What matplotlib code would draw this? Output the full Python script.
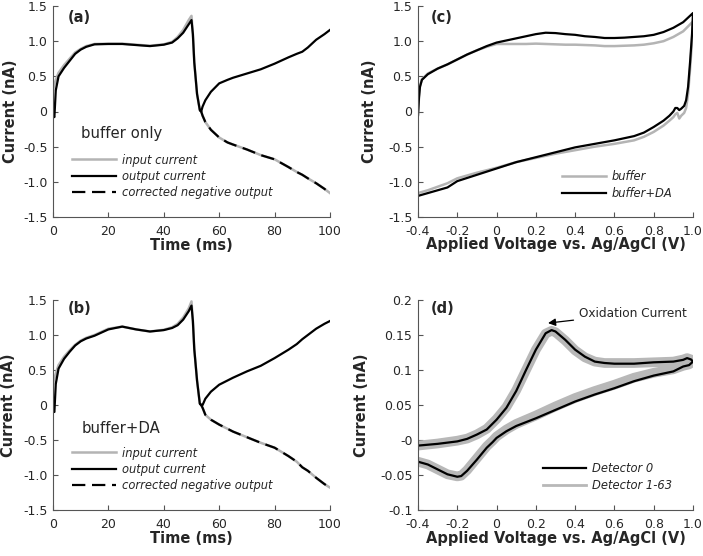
import numpy as np
import matplotlib
matplotlib.use("Agg")
import matplotlib.pyplot as plt

plt.rcParams['font.family'] = ['DejaVu Sans']

GRAY = '#b4b4b4'
TXT = '#262626'

# ---- panel (a): buffer only, current vs time ----
time_fwd = [0, 0.5, 1, 2, 4, 6, 8, 10, 12, 15, 20, 25, 30, 35, 40, 43, 45, 47, 49, 50, 50.5, 51, 52, 53]
time_tail = [53, 53.5, 54, 55, 57, 60, 63, 65, 70, 75, 80, 85, 88, 90, 92, 95, 98, 100]

in_a_fwd = [0.3, 0.38, 0.45, 0.55, 0.66, 0.75, 0.84, 0.89, 0.93, 0.96, 0.965, 0.965, 0.95, 0.935, 0.955,
            0.99, 1.06, 1.16, 1.30, 1.36, 1.1, 0.7, 0.25, 0.02]
out_a_fwd = [-0.05, -0.08, 0.3, 0.5, 0.62, 0.72, 0.82, 0.88, 0.92, 0.955, 0.96, 0.96, 0.945, 0.93, 0.95,
             0.98, 1.04, 1.12, 1.24, 1.30, 1.1, 0.7, 0.25, 0.02]
in_a_tail = [0.02, 0.0, -0.06, -0.15, -0.26, -0.37, -0.44, -0.47, -0.54, -0.62, -0.68, -0.79, -0.86,
             -0.90, -0.95, -1.02, -1.10, -1.16]
out_a_tail = [0.02, 0.0, 0.07, 0.16, 0.28, 0.40, 0.45, 0.48, 0.54, 0.60, 0.68, 0.77, 0.82, 0.85, 0.91,
              1.02, 1.10, 1.16]
corr_a_tail = [0.02, 0.0, -0.06, -0.15, -0.26, -0.37, -0.44, -0.47, -0.54, -0.62, -0.68, -0.79, -0.86,
               -0.90, -0.95, -1.02, -1.10, -1.16]

# ---- panel (b): buffer+DA, current vs time ----
in_b_fwd = [0.3, 0.38, 0.45, 0.57, 0.69, 0.78, 0.86, 0.92, 0.96, 1.0, 1.09, 1.12, 1.08, 1.05, 1.075,
            1.11, 1.16, 1.25, 1.38, 1.48, 1.2, 0.8, 0.35, 0.02]
out_b_fwd = [-0.08, -0.1, 0.3, 0.52, 0.66, 0.76, 0.85, 0.91, 0.95, 0.99, 1.08, 1.12, 1.08, 1.05, 1.07,
             1.10, 1.14, 1.22, 1.34, 1.42, 1.2, 0.8, 0.35, 0.02]
in_b_tail = [0.02, 0.0, -0.04, -0.14, -0.21, -0.28, -0.34, -0.38, -0.46, -0.54, -0.61, -0.73, -0.81,
             -0.89, -0.94, -1.04, -1.13, -1.18]
out_b_tail = [0.02, 0.0, 0.0, 0.09, 0.19, 0.29, 0.35, 0.39, 0.48, 0.56, 0.67, 0.79, 0.87, 0.94, 1.0,
              1.09, 1.16, 1.20]
corr_b_tail = [0.02, 0.0, -0.04, -0.14, -0.21, -0.28, -0.34, -0.38, -0.46, -0.54, -0.61, -0.73, -0.81,
               -0.89, -0.94, -1.04, -1.13, -1.18]

# ---- panel (c): cyclic voltammogram ----
volt_c_up = [-0.4, -0.395, -0.39, -0.38, -0.35, -0.3, -0.25, -0.2, -0.15, -0.1, -0.05, 0, 0.05, 0.1,
             0.15, 0.2, 0.25, 0.3, 0.35, 0.4, 0.45, 0.5, 0.55, 0.6, 0.65, 0.7, 0.75, 0.8, 0.85, 0.9, 0.95, 1.0]
buf_c_up = [-0.05, 0.2, 0.36, 0.46, 0.54, 0.61, 0.67, 0.74, 0.81, 0.87, 0.92, 0.96, 0.96, 0.96, 0.96,
            0.965, 0.96, 0.955, 0.95, 0.95, 0.945, 0.94, 0.93, 0.93, 0.935, 0.94, 0.95, 0.97, 1.0, 1.06,
            1.14, 1.28]
da_c_up = [-0.05, 0.2, 0.35, 0.45, 0.53, 0.61, 0.67, 0.74, 0.81, 0.87, 0.93, 0.98, 1.01, 1.04, 1.07,
           1.10, 1.12, 1.115, 1.10, 1.09, 1.07, 1.06, 1.045, 1.045, 1.05, 1.06, 1.07, 1.09, 1.13, 1.19,
           1.27, 1.40]
volt_c_dn = [1.0, 0.995, 0.985, 0.975, 0.965, 0.955, 0.94, 0.93, 0.92, 0.91, 0.9, 0.88, 0.85, 0.8,
             0.75, 0.7, 0.6, 0.5, 0.4, 0.3, 0.2, 0.1, 0, -0.1, -0.2, -0.25, -0.3, -0.35, -0.4]
buf_c_dn = [1.28, 1.0, 0.6, 0.25, 0.05, -0.02, -0.06, -0.1, -0.02, -0.04, -0.08, -0.13, -0.2, -0.29,
            -0.36, -0.41, -0.46, -0.5, -0.55, -0.6, -0.66, -0.72, -0.8, -0.87, -0.95, -1.02, -1.07,
            -1.12, -1.16]
da_c_dn = [1.40, 1.1, 0.7, 0.35, 0.16, 0.08, 0.04, 0.02, 0.05, 0.05, 0.0, -0.06, -0.13, -0.22, -0.3,
           -0.35, -0.41, -0.46, -0.51, -0.58, -0.65, -0.72, -0.81, -0.9, -0.99, -1.08, -1.12, -1.16, -1.20]

# ---- panel (d): background-subtracted CV ----
volt_d_up = [-0.4, -0.3, -0.2, -0.15, -0.1, -0.05, 0, 0.05, 0.1, 0.15, 0.2, 0.25, 0.28, 0.3, 0.35,
             0.4, 0.45, 0.5, 0.55, 0.6, 0.7, 0.8, 0.9, 0.95, 0.97, 0.99, 1.0]
d0_up = [-0.008, -0.0055, -0.002, 0.0016, 0.0078, 0.015, 0.029, 0.046, 0.07, 0.10, 0.129, 0.1525,
         0.157, 0.155, 0.143, 0.129, 0.119, 0.112, 0.11, 0.109, 0.109, 0.111, 0.112, 0.1145, 0.117,
         0.115, 0.112]
d1_up = [-0.008, -0.005, -0.001, 0.002, 0.008, 0.016, 0.030, 0.047, 0.071, 0.10, 0.129, 0.152,
         0.156, 0.154, 0.142, 0.128, 0.118, 0.112, 0.110, 0.110, 0.110, 0.111, 0.112, 0.115, 0.117,
         0.115, 0.112]
volt_d_dn = [1.0, 0.98, 0.95, 0.9, 0.8, 0.7, 0.6, 0.5, 0.4, 0.3, 0.2, 0.1, 0.05, 0, -0.02, -0.05,
             -0.1, -0.15, -0.18, -0.2, -0.25, -0.3, -0.35, -0.4]
d0_dn = [0.112, 0.107, 0.105, 0.098, 0.092, 0.084, 0.074, 0.065, 0.055, 0.043, 0.031, 0.02, 0.0125,
         0.003, -0.003, -0.011, -0.028, -0.044, -0.0515, -0.0525, -0.049, -0.042, -0.035, -0.031]
d1_dn = [0.112, 0.108, 0.106, 0.101, 0.096, 0.089, 0.079, 0.070, 0.060, 0.048, 0.035, 0.023, 0.015,
         0.005, -0.001, -0.009, -0.026, -0.043, -0.051, -0.052, -0.049, -0.042, -0.035, -0.031]

time_ticks = [0, 20, 40, 60, 80, 100]
cur_ticks = [-1.5, -1.0, -0.5, 0, 0.5, 1.0, 1.5]
cur_labels = ['-1.5', '-1.0', '-0.5', '0', '0.5', '1.0', '1.5']
volt_ticks = [-0.4, -0.2, 0, 0.2, 0.4, 0.6, 0.8, 1.0]
volt_labels = ['-0.4', '-0.2', '0', '0.2', '0.4', '0.6', '0.8', '1.0']
d_ticks = [-0.1, -0.05, 0, 0.05, 0.1, 0.15, 0.2]
d_labels = ['-0.1', '-0.05', '-0', '0.05', '0.1', '0.15', '0.2']

fig = plt.figure(figsize=(7.03, 5.56), dpi=100)
W, H = 703, 556
LEG = dict(loc='center left', frameon=False, borderpad=0, borderaxespad=0, handlelength=3.8,
           handletextpad=0.5, labelspacing=0.3, prop={'style': 'italic', 'size': 8.3})


def make_ax(l, r, t, b):
    ax = fig.add_axes([l / W, 1 - b / H, (r - l) / W, (b - t) / H])
    for s in ['top', 'right']:
        ax.spines[s].set_visible(False)
    for s in ['left', 'bottom']:
        ax.spines[s].set_color('#555555')
        ax.spines[s].set_linewidth(0.8)
    ax.tick_params(direction='in', length=3.5, width=0.8, color='#555555',
                   labelsize=9, labelcolor=TXT)
    ax.tick_params(axis='x', pad=5.5)
    ax.tick_params(axis='y', pad=4)
    return ax


def style_labels(ax, xlabel, xl_y, yl_x):
    ax.set_xlabel(xlabel, fontsize=10.5, fontweight='bold', color=TXT)
    ax.set_ylabel('Current (nA)', fontsize=10.5, fontweight='bold', color=TXT)
    ax.xaxis.set_label_coords(0.5, xl_y)
    ax.yaxis.set_label_coords(yl_x, 0.5)


def grey_legend(ax, x, y):
    leg = ax.legend(bbox_to_anchor=(x, y), **LEG)
    for t in leg.get_texts():
        t.set_color(TXT)


def time_panel(ax, in_fwd, out_fwd, in_tail, out_tail, corr_tail, tag, note, leg_y, yl_x):
    ax.plot(time_fwd + time_tail[1:], in_fwd + in_tail[1:], color=GRAY, lw=1.8, label='input current')
    ax.plot(time_fwd + time_tail[1:], out_fwd + out_tail[1:], color='black', lw=1.6,
            label='output current')
    ax.plot(time_tail, corr_tail, color='black', lw=1.6, dashes=(6, 3),
            label='corrected negative output')
    ax.set_xlim(0, 100)
    ax.set_ylim(-1.5, 1.5)
    ax.set_xticks(time_ticks)
    ax.set_yticks(cur_ticks)
    ax.set_yticklabels(cur_labels)
    ax.text(0.054, tag[1], tag[0], transform=ax.transAxes, fontsize=10.5, fontweight='bold',
            va='center', color=TXT)
    ax.text(0.102, note[1], note[0], transform=ax.transAxes, fontsize=10.7, va='center', color=TXT)
    grey_legend(ax, 0.07, leg_y)
    style_labels(ax, 'Time (ms)', -0.1, yl_x)


ax_a = make_ax(53, 330, 6, 217)
time_panel(ax_a, in_a_fwd, out_a_fwd, in_a_tail, out_a_tail, corr_a_tail, ('(a)', 0.945),
           ('buffer only', 0.396), 0.192, -0.128)

ax_b = make_ax(53, 330, 300, 510)
time_panel(ax_b, in_b_fwd, out_b_fwd, in_b_tail, out_b_tail, corr_b_tail, ('(b)', 0.96),
           ('buffer+DA', 0.39), 0.193, -0.133)

# (c)
ax_c = make_ax(418, 693, 6, 217)
ax_c.plot(volt_c_up + volt_c_dn[1:], buf_c_up + buf_c_dn[1:], color=GRAY, lw=1.8, label='buffer')
ax_c.plot(volt_c_up + volt_c_dn[1:], da_c_up + da_c_dn[1:], color='black', lw=1.6, label='buffer+DA')
ax_c.set_xlim(-0.4, 1.0)
ax_c.set_ylim(-1.5, 1.5)
ax_c.set_xticks(volt_ticks)
ax_c.set_xticklabels(volt_labels)
ax_c.set_yticks(cur_ticks)
ax_c.set_yticklabels(cur_labels)
ax_c.text(0.048, 0.945, '(c)', transform=ax_c.transAxes, fontsize=10.5, fontweight='bold',
          va='center', color=TXT)
grey_legend(ax_c, 0.525, 0.152)
style_labels(ax_c, 'Applied Voltage vs. Ag/AgCl (V)', -0.095, -0.149)

# (d)
ax_d = make_ax(418, 693, 300, 510)
ax_d.plot(volt_d_up + volt_d_dn[1:], d1_up + d1_dn[1:], color='#b8b8b8', lw=7,
          solid_capstyle='round', solid_joinstyle='round')
ax_d.plot(volt_d_up + volt_d_dn[1:], d0_up + d0_dn[1:], color='black', lw=1.6, label='Detector 0')
ax_d.plot([], [], color='#b8b8b8', lw=2, label='Detector 1-63')
ax_d.set_xlim(-0.4, 1.0)
ax_d.set_ylim(-0.1, 0.2)
ax_d.set_xticks(volt_ticks)
ax_d.set_xticklabels(volt_labels)
ax_d.set_yticks(d_ticks)
ax_d.set_yticklabels(d_labels)
ax_d.text(0.048, 0.96, '(d)', transform=ax_d.transAxes, fontsize=10.5, fontweight='bold',
          va='center', color=TXT)
ax_d.annotate('Oxidation Current', xy=(0.262, 0.167), xytext=(0.42, 0.181),
              fontsize=8.7, va='center', color=TXT,
              arrowprops=dict(arrowstyle='-|>', color='black', lw=0.9, shrinkA=2, shrinkB=0,
                              mutation_scale=11))
grey_legend(ax_d, 0.453, 0.158)
style_labels(ax_d, 'Applied Voltage vs. Ag/AgCl (V)', -0.1, -0.178)

fig.savefig('out.png', dpi=100)
